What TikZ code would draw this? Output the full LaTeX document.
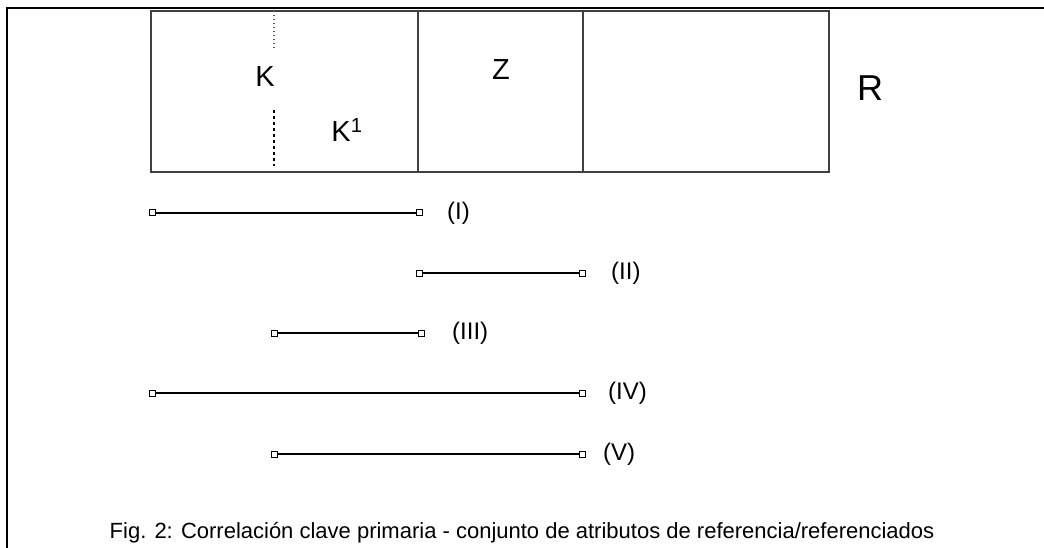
\documentclass[tikz,border=0pt]{standalone}
\usepackage{fontspec}
\setmainfont{Liberation Sans}
\usepackage{tikz}
\usetikzlibrary{positioning}
\tikzset{
    endbox/.style = {
        rectangle,
        draw=black,
        line width=1pt,
        fill=white,
        minimum width=6pt,
        minimum height=6pt,
        inner sep=0pt,
        outer sep=0pt
    },
    seglabel/.style = {
        font=\fontsize{24}{26}\selectfont,
        anchor=west,
        inner sep=0pt
    },
    keylabel/.style = {
        font=\fontsize{29}{32}\selectfont,
        inner sep=0pt
    },
    segline/.style = {
        line width=1.5pt
    },
    relbox/.style = {
        draw=black!75,
        line width=1.2pt
    }
}

\begin{document}
\begin{tikzpicture}[x=1pt,y=-1pt]
    \useasboundingbox (0,0) rectangle (1044,548);
    % frame
    \draw[line width=2.2pt] (7,548) -- (7,8) -- (1044,8);
    % relation R
    \draw[relbox] (151,11) rectangle (829,172);
    \draw[relbox] (418,11) -- (418,172);
    \draw[relbox] (583,11) -- (583,172);
    \draw[line width=1.3pt, dash pattern=on 1.5pt off 2.5pt, black!65] (274,11) -- (274,50);
    \draw[line width=1.3pt, dash pattern=on 3pt off 3pt] (274,110) -- (274,166);
    \node[keylabel] (k) at (265,77) {K};
    \node[keylabel] (k1) at (347,130) {K\textsuperscript{1}};
    \node[keylabel] (z) at (501,70) {Z};
    \node[keylabel, font=\fontsize{36}{40}\selectfont] (r) at (870,88) {R};
    % segments
    \node[endbox] (i1) at (152,213) {};
    \node[endbox] (i2) at (419,213) {};
    \draw[segline] (i1) -- (i2);
    \node[seglabel, right=25pt of i2] (il) {(I)};

    \node[endbox] (ii1) at (419,273) {};
    \node[endbox] (ii2) at (582,273) {};
    \draw[segline] (ii1) -- (ii2);
    \node[seglabel, right=26pt of ii2] (iil) {(II)};

    \node[endbox] (iii1) at (274,333) {};
    \node[endbox] (iii2) at (421,333) {};
    \draw[segline] (iii1) -- (iii2);
    \node[seglabel, right=28pt of iii2] (iiil) {(III)};

    \node[endbox] (iv1) at (152,393) {};
    \node[endbox] (iv2) at (582,393) {};
    \draw[segline] (iv1) -- (iv2);
    \node[seglabel, right=23pt of iv2] (ivl) {(IV)};

    \node[endbox] (v1) at (274,454) {};
    \node[endbox] (v2) at (582,454) {};
    \draw[segline] (v1) -- (v2);
    \node[seglabel, right=18pt of v2] (vl) {(V)};
    % caption
    \node[inner sep=0pt, font=\fontsize{22}{24}\selectfont] (caption) at (522,533)
        {Fig. 2: Correlación clave primaria - conjunto de atributos de referencia/referenciados};
\end{tikzpicture}
\end{document}
